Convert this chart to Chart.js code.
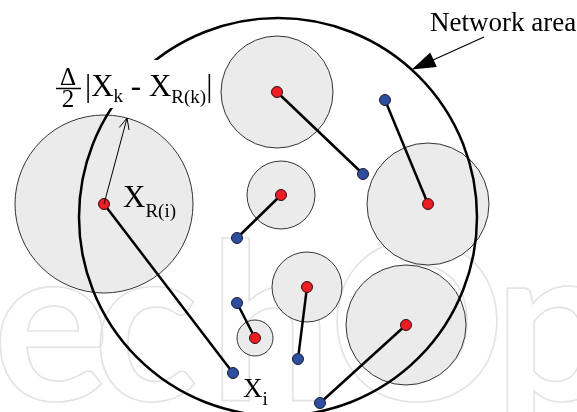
<!DOCTYPE html>
<html>
<head>
<meta charset="utf-8">
<script src="https://cdn.jsdelivr.net/npm/chart.js@4.4.1/dist/chart.umd.min.js"></script>
<style>
  html, body { margin: 0; padding: 0; background: #fff; }
  #wrap { width: 577px; height: 412px; }
</style>
</head>
<body>
<div id="wrap"><canvas id="net" width="577" height="412"></canvas></div>
<script>
/* relays (red) with their coverage radius */
const relayX = [104, 277, 281, 428, 307, 406, 255];
const relayY = [204, 92, 195, 204, 287, 325, 338];
const relayR = [89, 56, 34, 61, 35, 60, 18];

/* nodes (blue) and the relay each one is attached to */
const nodeX = [385, 363, 237, 237, 233, 298, 320];
const nodeY = [100, 174, 238, 303, 373, 359, 403];
const nodeLink = [3, 1, 2, 6, 0, 4, 5];

/* network area */
const areaX = [278];
const areaY = [217];
const areaR = [199];

const SERIF = "'Liberation Serif', 'DejaVu Serif', serif";

const datasets = [];

datasets.push({
    type: "bubble",
    data: relayX.map((x, i) => ({ x, y: relayY[i], r: relayR[i] })),
    backgroundColor: "#ebebeb",
    borderColor: "#333",
    borderWidth: 1,
    order: 6
});

datasets.push({
    type: "bubble",
    data: areaX.map((x, i) => ({ x, y: areaY[i], r: areaR[i] })),
    backgroundColor: "rgba(0,0,0,0)",
    borderColor: "#000",
    borderWidth: 2.5,
    order: 5
});

nodeLink.forEach((k, i) => {
    datasets.push({
        type: "scatter",
        showLine: true,
        data: [{ x: nodeX[i], y: nodeY[i] }, { x: relayX[k], y: relayY[k] }],
        borderColor: "#000",
        borderWidth: 2.5,
        pointRadius: 0,
        order: 4
    });
});

datasets.push({
    type: "scatter",
    data: nodeX.map((x, i) => ({ x, y: nodeY[i] })),
    pointRadius: 5.5,
    backgroundColor: "#2d4ea0",
    borderColor: "#1b1b2b",
    borderWidth: 1,
    order: 2
});

datasets.push({
    type: "scatter",
    data: relayX.map((x, i) => ({ x, y: relayY[i] })),
    pointRadius: 5.5,
    backgroundColor: "#ee1c25",
    borderColor: "#2a1010",
    borderWidth: 1,
    order: 1
});

/* draws a row of text runs: [text, size, baseline shift] */
function runs(ctx, x, y, parts) {
    parts.forEach(([t, size, dy]) => {
        ctx.font = size + "px " + SERIF;
        ctx.fillText(t, x, y + dy);
        x += ctx.measureText(t).width;
    });
}

function arrowHead(ctx, x, y, ang, len, half, filled) {
    const bx = x - len * Math.cos(ang), by = y - len * Math.sin(ang);
    const nx = -Math.sin(ang) * half, ny = Math.cos(ang) * half;
    ctx.beginPath();
    ctx.moveTo(bx + nx, by + ny);
    ctx.lineTo(x, y);
    ctx.lineTo(bx - nx, by - ny);
    if (filled) { ctx.closePath(); ctx.fill(); } else ctx.stroke();
}

const watermark = {
    id: "watermark",
    beforeDatasetsDraw(chart) {
        const ctx = chart.ctx;
        ctx.save();
        ctx.strokeStyle = "#e3e3e3";
        ctx.lineWidth = 1.6;
        ctx.font = "700 218px Lato";
        ctx.textBaseline = "alphabetic";
        // glyph, left ink edge
        [["e", 0], ["c", 100], ["h", 222], ["O", 337], ["p", 507]].forEach(([g, left]) => {
            const m = ctx.measureText(g);
            ctx.strokeText(g, left + m.actualBoundingBoxLeft, 400);
        });
        ctx.restore();
    }
};

const labels = {
    id: "labels",
    afterDatasetsDraw(chart) {
        const ctx = chart.ctx;
        const sx = chart.scales.x, sy = chart.scales.y;
        ctx.save();
        ctx.strokeStyle = "#000";
        ctx.textBaseline = "alphabetic";

        // label box for the coverage radius formula (breaks the area line)
        ctx.fillStyle = "#fff";
        ctx.fillRect(52, 60, 158, 48);
        ctx.fillStyle = "#000";

        ctx.textAlign = "center";
        ctx.font = "25px " + SERIF;
        ctx.fillText("\u0394", 68, 85);
        ctx.fillText("2", 68, 107);
        ctx.lineWidth = 1.5;
        ctx.beginPath();
        ctx.moveTo(56, 88.5);
        ctx.lineTo(81, 88.5);
        ctx.stroke();
        ctx.textAlign = "left";
        runs(ctx, 85, 96, [["|X", 31, 0], ["k", 19, 6], [" - X", 31, 0], ["R(k)", 19, 7], ["|", 31, 0]]);

        // radius arrow of the big relay
        const cx = sx.getPixelForValue(relayX[0]), cy = sy.getPixelForValue(relayY[0]);
        const ang = -75 * Math.PI / 180;
        const tx = cx + relayR[0] * Math.cos(ang), ty = cy + relayR[0] * Math.sin(ang);
        ctx.lineWidth = 1;
        ctx.beginPath();
        ctx.moveTo(cx, cy);
        ctx.lineTo(tx, ty);
        ctx.stroke();
        arrowHead(ctx, tx, ty, ang, 11, 5, false);

        // network area pointer
        const ax = sx.getPixelForValue(areaX[0]), ay = sy.getPixelForValue(areaY[0]);
        const a2 = -47.8 * Math.PI / 180;
        const px = ax + areaR[0] * Math.cos(a2), py = ay + areaR[0] * Math.sin(a2);
        const fx = 484, fy = 37;
        const pa = Math.atan2(py - fy, px - fx);
        ctx.lineWidth = 1.2;
        ctx.beginPath();
        ctx.moveTo(fx, fy);
        ctx.lineTo(px - 18 * Math.cos(pa), py - 18 * Math.sin(pa));
        ctx.stroke();
        arrowHead(ctx, px, py, pa, 24, 8, true);

        ctx.font = "27px " + SERIF;
        ctx.fillText("Network area", 430, 31);

        runs(ctx, 123, 207, [["X", 31, 0], ["R(i)", 19, 10]]);
        runs(ctx, 243, 397, [["X", 27, 0], ["i", 19, 8]]);
        ctx.restore();
    }
};

new Chart(document.getElementById("net"), {
    type: "scatter",
    data: { datasets },
    options: {
        responsive: false,
        animation: false,
        events: [],
        layout: { padding: 0, autoPadding: false },
        plugins: { legend: { display: false }, tooltip: { enabled: false } },
        scales: {
            x: { type: "linear", min: 0, max: 577, display: false },
            y: { type: "linear", min: 0, max: 412, reverse: true, display: false }
        }
    },
    plugins: [watermark, labels]
});
</script>
</body>
</html>
